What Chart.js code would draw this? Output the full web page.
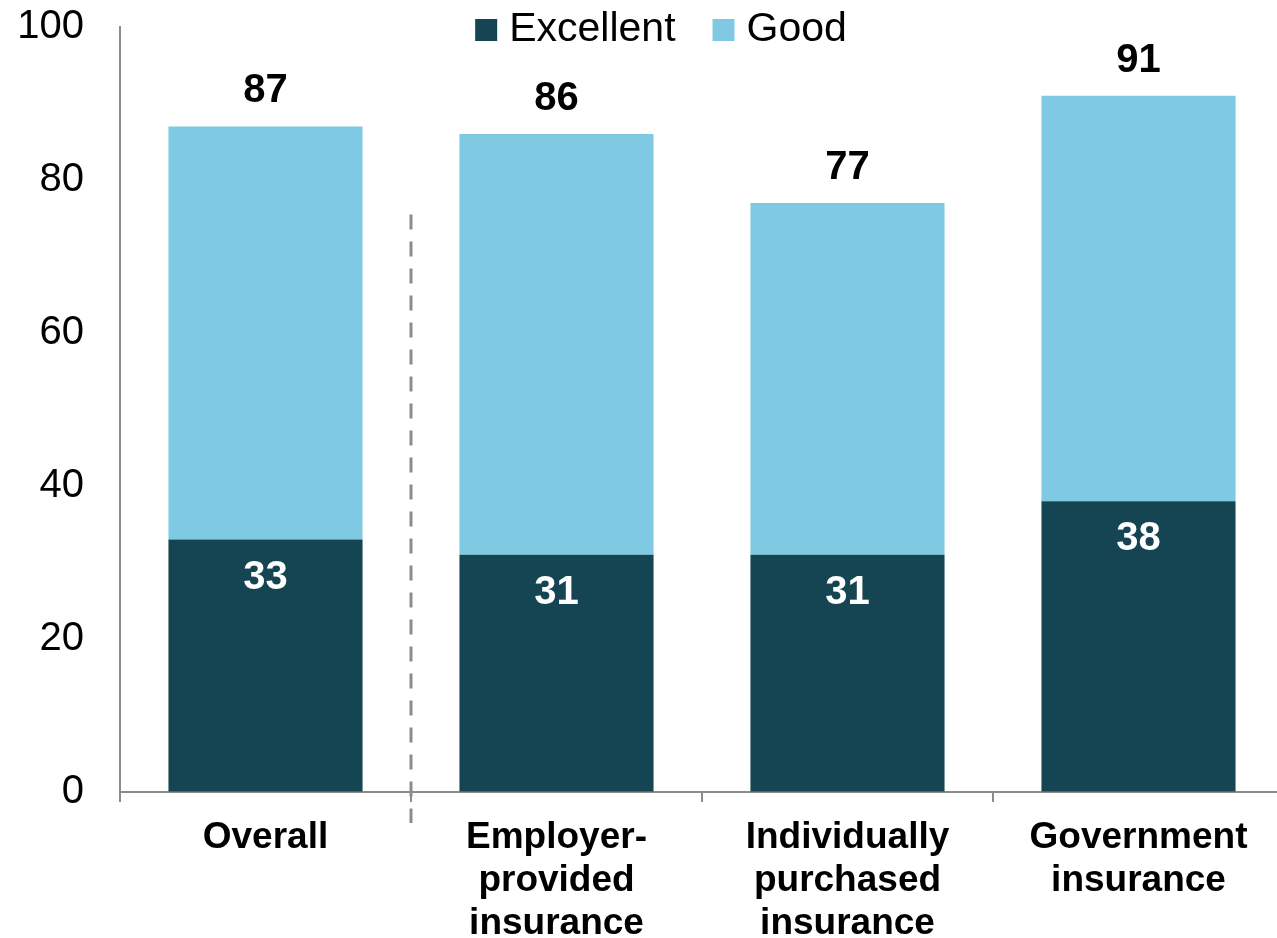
<!DOCTYPE html>
<html>
<head>
<meta charset="utf-8">
<script src="https://cdn.jsdelivr.net/npm/chart.js@4/dist/chart.umd.min.js"></script>
<style>
  html, body { margin: 0; padding: 0; background: #fff; overflow: hidden; }
  #wrap { width: 1277px; height: 938px; overflow: hidden; position: relative; }
  canvas { display: block; }
</style>
</head>
<body>
<div id="wrap"><canvas id="c" width="1284" height="938"></canvas></div>
<script>
// Survey ratings by type of coverage (percent)
const categories = [
  ['Overall'],
  ['Employer-', 'provided', 'insurance'],
  ['Individually', 'purchased', 'insurance'],
  ['Government', 'insurance']
];
const excellent = [33, 31, 31, 38];
const good = [54, 55, 46, 53];
const yTicks = [0, 20, 40, 60, 80, 100];

const FONT = '"Liberation Sans", Arial, Helvetica, sans-serif';
const DARK = '#154453';
const LIGHT = '#7FC9E3';
const AXIS = '#8C8C8C';

// Value labels: white inside the Excellent segment, black totals above the stack
const valueLabels = {
  id: 'valueLabels',
  afterDatasetsDraw(chart) {
    const ctx = chart.ctx;
    const m0 = chart.getDatasetMeta(0);
    const m1 = chart.getDatasetMeta(1);
    ctx.save();
    ctx.font = 'bold 40px ' + FONT;
    ctx.textAlign = 'center';
    ctx.textBaseline = 'middle';
    m0.data.forEach((bar, i) => {
      ctx.fillStyle = '#FFFFFF';
      ctx.fillText(String(excellent[i]), bar.x, bar.y + 38);
      const top = m1.data[i];
      ctx.fillStyle = '#000000';
      ctx.fillText(String(excellent[i] + good[i]), top.x, top.y - 35);
    });
    ctx.restore();
  }
};

// Dashed divider between the overall bar and the breakdown by coverage type
const divider = {
  id: 'divider',
  afterDraw(chart) {
    const x = chart.scales.x;
    const y = chart.scales.y;
    const px = (x.getPixelForValue(0) + x.getPixelForValue(1)) / 2;
    const ctx = chart.ctx;
    ctx.save();
    ctx.strokeStyle = AXIS;
    ctx.lineWidth = 3;
    ctx.setLineDash([15, 12]);
    ctx.beginPath();
    ctx.moveTo(px, y.getPixelForValue(75.5));
    ctx.lineTo(px, y.bottom + 31);
    ctx.stroke();
    ctx.restore();
  }
};

// Legend row at the top of the plot
const topLegend = {
  id: 'topLegend',
  afterDraw(chart) {
    const ctx = chart.ctx;
    const items = chart.data.datasets.map(d => ({ text: d.label, color: d.backgroundColor }));
    ctx.save();
    ctx.font = '41px ' + FONT;
    ctx.textBaseline = 'middle';
    ctx.textAlign = 'left';
    const box = 22, gapBox = 12, gapItem = 37;
    const widths = items.map(it => box + gapBox + ctx.measureText(it.text).width);
    const total = widths.reduce((a, b) => a + b, 0) + gapItem * (items.length - 1);
    let xPos = 661 - total / 2;
    const yMid = 30;
    items.forEach((it, i) => {
      ctx.fillStyle = it.color;
      ctx.fillRect(xPos, yMid - box / 2, box, box);
      ctx.fillStyle = '#000000';
      ctx.fillText(it.text, xPos + box + gapBox, yMid);
      xPos += widths[i] + gapItem;
    });
    ctx.restore();
  }
};

new Chart(document.getElementById('c'), {
  type: 'bar',
  data: {
    labels: categories,
    datasets: [
      { label: 'Excellent', data: excellent, backgroundColor: DARK },
      { label: 'Good', data: good, backgroundColor: LIGHT }
    ]
  },
  options: {
    responsive: false,
    animation: false,
    devicePixelRatio: 1,
    layout: { padding: { top: 27, right: 0, bottom: 0, left: 0 } },
    datasets: { bar: { categoryPercentage: 1, barPercentage: 0.667, borderWidth: 0 } },
    plugins: {
      legend: { display: false },
      tooltip: { enabled: false }
    },
    scales: {
      x: {
        stacked: true,
        offset: true,
        grid: {
          offset: true,
          drawOnChartArea: false,
          drawTicks: true,
          tickLength: 10,
          color: AXIS,
          lineWidth: 2
        },
        border: { display: true, color: AXIS, width: 2 },
        ticks: {
          color: '#000000',
          padding: 14,
          maxRotation: 0,
          autoSkip: false,
          font: { family: FONT, size: 37, weight: 'bold', lineHeight: 1.16 }
        },
        afterFit(scale) { scale.height = 146; }
      },
      y: {
        stacked: true,
        min: 0,
        max: 100,
        afterBuildTicks(scale) { scale.ticks = yTicks.map(v => ({ value: v })); },
        // invisible tick marks keep the labels clear of the axis line
        grid: {
          drawOnChartArea: false,
          drawTicks: true,
          tickLength: 34,
          tickColor: 'rgba(0,0,0,0)'
        },
        border: { display: true, color: AXIS, width: 2 },
        ticks: {
          color: '#000000',
          padding: 2,
          font: { family: FONT, size: 40 }
        },
        afterFit(scale) { scale.width = 120; }
      }
    }
  },
  plugins: [valueLabels, divider, topLegend]
});
</script>
</body>
</html>
